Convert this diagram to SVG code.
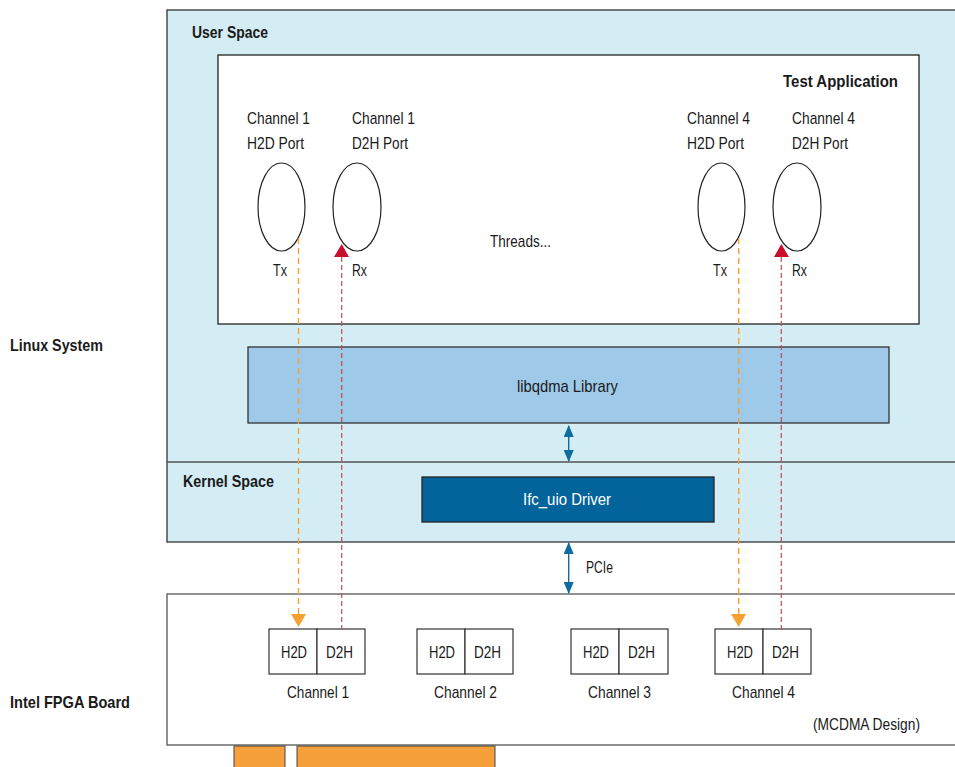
<svg xmlns="http://www.w3.org/2000/svg" width="955" height="767" viewBox="0 0 955 767">
  <style>
    text { font-family: "Liberation Sans", Arial, sans-serif; font-size: 17px; fill: #1a1a1a; }
    .b { font-weight: bold; }
    .w { fill: #ffffff; }
    .region { fill: #d4ecf3; stroke: #333333; stroke-width: 1.3; }
    .panel { fill: #ffffff; stroke: #222222; stroke-width: 1.3; }
    .board { fill: #ffffff; stroke: #555555; stroke-width: 1.3; }
    .port { fill: #ffffff; stroke: #222222; stroke-width: 1.2; }
    .cell { fill: #ffffff; stroke: #333333; stroke-width: 1.2; }
    .lib { fill: #9fc9e8; stroke: #333333; stroke-width: 1.3; }
    .drv { fill: #02649a; stroke: #222222; stroke-width: 1.3; }
    .tx { stroke: #f6a031; stroke-width: 1.4; stroke-dasharray: 6 4; fill: none; }
    .rx { stroke: #c0485a; stroke-width: 1.2; stroke-dasharray: 5 3; fill: none; }
    .bus { stroke: #0d6d9e; stroke-width: 1.4; fill: none; }
  </style>
  <defs>
    <marker id="busHead" viewBox="0 0 12 10" refX="11" refY="5" markerWidth="12" markerHeight="10" markerUnits="userSpaceOnUse" orient="auto-start-reverse">
      <path d="M0,0 L12,5 L0,10 Z" fill="#0d6d9e"/>
    </marker>
  </defs>

  <!-- side labels -->
  <text class="b" x="10" y="351" textLength="93" lengthAdjust="spacingAndGlyphs">Linux System</text>
  <text class="b" x="10" y="708" textLength="120" lengthAdjust="spacingAndGlyphs">Intel FPGA Board</text>

  <!-- Linux system: user space + kernel space -->
  <g id="linux-system">
    <rect class="region" x="167" y="10" width="800" height="532"/>
    <line x1="167" y1="462" x2="955" y2="462" stroke="#555555" stroke-width="1.3"/>
    <text class="b" x="192" y="38" textLength="76" lengthAdjust="spacingAndGlyphs">User Space</text>
    <text class="b" x="183" y="487" textLength="91" lengthAdjust="spacingAndGlyphs">Kernel Space</text>
  </g>

  <g id="test-application">
    <rect class="panel" x="218" y="55" width="701" height="269"/>
    <text class="b" x="783" y="87" textLength="115" lengthAdjust="spacingAndGlyphs">Test Application</text>
    <text x="490" y="247" textLength="61" lengthAdjust="spacingAndGlyphs">Threads...</text>
  </g>

  <g id="ch1-h2d-port">
    <text x="247" y="124" textLength="63" lengthAdjust="spacingAndGlyphs">Channel 1</text>
    <text x="247" y="149" textLength="57" lengthAdjust="spacingAndGlyphs">H2D Port</text>
    <ellipse class="port" cx="281.5" cy="207" rx="23.5" ry="44"/>
    <text x="273" y="276" textLength="14" lengthAdjust="spacingAndGlyphs">Tx</text>
  </g>
  <g id="ch1-d2h-port">
    <text x="352" y="124" textLength="63" lengthAdjust="spacingAndGlyphs">Channel 1</text>
    <text x="352" y="149" textLength="56" lengthAdjust="spacingAndGlyphs">D2H Port</text>
    <ellipse class="port" cx="357" cy="207" rx="24" ry="44"/>
    <text x="352" y="276" textLength="15" lengthAdjust="spacingAndGlyphs">Rx</text>
  </g>
  <g id="ch4-h2d-port">
    <text x="687" y="124" textLength="63" lengthAdjust="spacingAndGlyphs">Channel 4</text>
    <text x="687" y="149" textLength="57" lengthAdjust="spacingAndGlyphs">H2D Port</text>
    <ellipse class="port" cx="721.5" cy="207" rx="23.5" ry="44"/>
    <text x="713" y="276" textLength="14" lengthAdjust="spacingAndGlyphs">Tx</text>
  </g>
  <g id="ch4-d2h-port">
    <text x="792" y="124" textLength="63" lengthAdjust="spacingAndGlyphs">Channel 4</text>
    <text x="792" y="149" textLength="56" lengthAdjust="spacingAndGlyphs">D2H Port</text>
    <ellipse class="port" cx="797" cy="207" rx="24" ry="44"/>
    <text x="792" y="276" textLength="15" lengthAdjust="spacingAndGlyphs">Rx</text>
  </g>

  <g id="libqdma-library">
    <rect class="lib" x="248" y="347" width="641" height="76"/>
    <text x="517" y="392" textLength="101" lengthAdjust="spacingAndGlyphs">libqdma Library</text>
  </g>

  <g id="ifc-uio-driver">
    <rect class="drv" x="422" y="477" width="292" height="45"/>
    <text class="w" x="523" y="505" textLength="88" lengthAdjust="spacingAndGlyphs">Ifc_uio Driver</text>
  </g>

  <g id="fpga-board">
    <rect class="board" x="167" y="594" width="800" height="151"/>
    <rect x="234" y="746" width="51" height="22" fill="#f6a03c" stroke="#444444" stroke-width="1"/>
    <rect x="297" y="746" width="198" height="22" fill="#f6a03c" stroke="#444444" stroke-width="1"/>
    <text x="813" y="730" textLength="107" lengthAdjust="spacingAndGlyphs">(MCDMA Design)</text>
  </g>

  <g id="fpga-channel-1">
    <rect class="cell" x="269" y="629" width="48" height="45"/>
    <rect class="cell" x="317" y="629" width="48" height="45"/>
    <text x="281" y="658" textLength="26" lengthAdjust="spacingAndGlyphs">H2D</text>
    <text x="326" y="658" textLength="27" lengthAdjust="spacingAndGlyphs">D2H</text>
    <text x="287" y="698" textLength="62" lengthAdjust="spacingAndGlyphs">Channel 1</text>
  </g>
  <g id="fpga-channel-2">
    <rect class="cell" x="417" y="629" width="48" height="45"/>
    <rect class="cell" x="465" y="629" width="48" height="45"/>
    <text x="429" y="658" textLength="26" lengthAdjust="spacingAndGlyphs">H2D</text>
    <text x="474" y="658" textLength="27" lengthAdjust="spacingAndGlyphs">D2H</text>
    <text x="434" y="698" textLength="63" lengthAdjust="spacingAndGlyphs">Channel 2</text>
  </g>
  <g id="fpga-channel-3">
    <rect class="cell" x="571" y="629" width="48" height="45"/>
    <rect class="cell" x="619" y="629" width="49" height="45"/>
    <text x="583" y="658" textLength="26" lengthAdjust="spacingAndGlyphs">H2D</text>
    <text x="628" y="658" textLength="27" lengthAdjust="spacingAndGlyphs">D2H</text>
    <text x="588" y="698" textLength="63" lengthAdjust="spacingAndGlyphs">Channel 3</text>
  </g>
  <g id="fpga-channel-4">
    <rect class="cell" x="715" y="629" width="48" height="45"/>
    <rect class="cell" x="763" y="629" width="48" height="45"/>
    <text x="727" y="658" textLength="26" lengthAdjust="spacingAndGlyphs">H2D</text>
    <text x="772" y="658" textLength="27" lengthAdjust="spacingAndGlyphs">D2H</text>
    <text x="732" y="698" textLength="63" lengthAdjust="spacingAndGlyphs">Channel 4</text>
  </g>

  <g id="connectors">
    <!-- host-to-device (Tx) paths -->
    <line class="tx" x1="298.5" y1="238" x2="298.5" y2="614"/>
    <path d="M291,614 L306,614 L298.5,627 Z" fill="#f6a031"/>
    <line class="tx" x1="738.7" y1="238" x2="738.7" y2="614"/>
    <path d="M731,614 L746,614 L738.7,627 Z" fill="#f6a031"/>
    <!-- device-to-host (Rx) paths -->
    <line class="rx" x1="341.7" y1="257" x2="341.7" y2="629"/>
    <path d="M334,257 L349,257 L341.7,244 Z" fill="#c8102e"/>
    <line class="rx" x1="781.3" y1="257" x2="781.3" y2="629"/>
    <path d="M774,257 L789,257 L781.3,244 Z" fill="#c8102e"/>
    <!-- library to driver -->
    <line class="bus" x1="568.7" y1="426" x2="568.7" y2="461" marker-start="url(#busHead)" marker-end="url(#busHead)"/>
    <!-- PCIe link -->
    <line class="bus" x1="568.7" y1="543" x2="568.7" y2="593" marker-start="url(#busHead)" marker-end="url(#busHead)"/>
    <text x="586" y="573" textLength="27" lengthAdjust="spacingAndGlyphs">PCIe</text>
  </g>
</svg>
